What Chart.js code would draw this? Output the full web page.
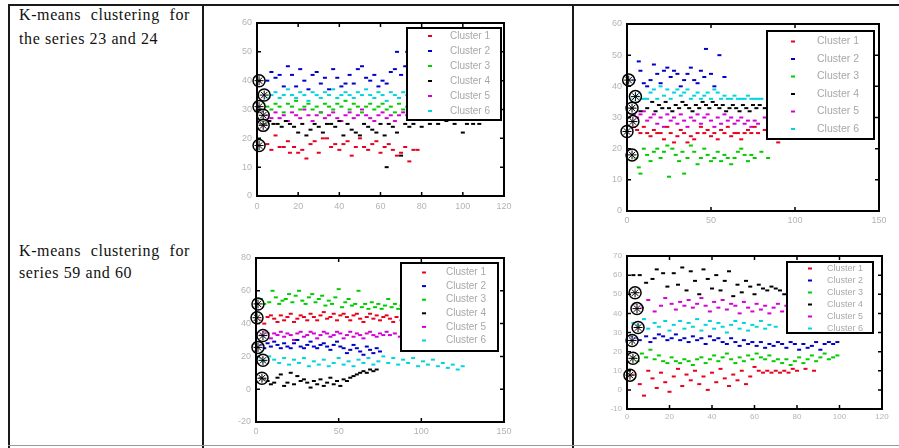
<!DOCTYPE html>
<html><head><meta charset="utf-8">
<script src="https://cdn.jsdelivr.net/npm/chart.js@4.4.1/dist/chart.umd.min.js"></script>
<style>
html,body{margin:0;padding:0;background:#fff;}
body{width:899px;height:448px;position:relative;overflow:hidden;}
.ln{position:absolute;background:#1a1a1a;}
.txt{position:absolute;font-family:"Liberation Serif","Times New Roman",serif;font-size:16px;letter-spacing:0.6px;color:#111;text-align:justify;}
canvas{position:absolute;}
</style></head><body>
<div class="ln" style="left:8px;top:4px;width:891px;height:2px"></div>
<div class="ln" style="left:8px;top:4px;width:2px;height:444px"></div>
<div class="ln" style="left:202px;top:4px;width:2px;height:444px"></div>
<div class="ln" style="left:572px;top:4px;width:2px;height:444px"></div>
<div class="ln" style="left:8px;top:445px;width:891px;height:1px;background:#999"></div>
<div class="txt" id="t1" style="left:19px;top:3px;width:171px;line-height:24px"></div>
<div class="txt" id="t2" style="left:19px;top:240px;width:171px;line-height:22px"></div>
<canvas id="c1"></canvas><canvas id="c2"></canvas><canvas id="c3"></canvas><canvas id="c4"></canvas>
<script>
// ---- text ----
const rowLabels = ["K-means clustering for the series 23 and 24", "K-means clustering for series 59 and 60"];
const clusterNames = ["Cluster 1","Cluster 2","Cluster 3","Cluster 4","Cluster 5","Cluster 6"];
const clusterColors = ["#e8001c","#0000c8","#00cc00","#000000","#d400d4","#00d4dc"];

// ---- plot 1 (series 23) ----
const p1X = {min:0,max:120,step:20};
const p1Y = {min:0,max:60,step:10};
const p1c1 = [[5,18],[7,16],[9,21],[11,17],[13,17],[15,19],[16,15],[18,17],[20,15],[22,16],[24,13],[26,18],[28,19],[30,15],[32,20],[34,20],[36,17],[38,18],[40,16],[42,18],[44,19],[46,14],[48,17],[50,20],[52,17],[54,16],[56,18],[58,19],[60,15],[62,17],[64,18],[66,16],[68,14],[70,15],[72,17],[74,12],[76,16],[78,16]];
const p1c2 = [[5,40],[7,43],[9,41],[11,42],[13,38],[15,45],[17,42],[19,38],[21,44],[23,40],[25,37],[27,42],[29,43],[31,39],[33,41],[35,37],[37,44],[39,41],[41,38],[43,39],[45,42],[47,39],[49,44],[51,45],[53,41],[55,40],[57,42],[59,38],[61,40],[63,39],[65,43],[67,44],[68,50],[70,42],[72,45],[73,50],[75,41],[77,43]];
const p1c3 = [[5,31],[7,30],[9,32],[11,31],[13,29],[15,32],[17,31],[19,33],[21,30],[23,31],[25,32],[27,30],[29,31],[31,29],[33,32],[35,31],[37,30],[39,32],[41,31],[43,33],[45,30],[47,32],[49,31],[51,29],[53,31],[55,32],[57,30],[59,31],[61,32],[63,30],[65,31],[67,29],[69,32],[71,30],[73,31],[75,30],[77,32],[79,31]];
const p1c4 = [[2,25],[4,25],[6,26],[8,25],[10,25],[12,24],[14,26],[16,25],[18,24],[20,22],[22,25],[24,21],[26,23],[28,25],[30,24],[32,22],[34,25],[36,25],[38,24],[40,26],[42,21],[44,25],[46,23],[48,22],[50,21],[52,25],[54,24],[56,23],[58,22],[60,25],[62,21],[63,10],[64,25],[66,24],[68,22],[70,14],[72,25],[74,24],[76,25],[80,24],[84,25],[88,25],[92,26],[96,25],[100,22],[102,25],[105,25],[108,25]];
const p1c5 = [[5,28],[7,27],[9,29],[11,27],[13,28],[15,26],[17,29],[19,28],[21,27],[23,30],[25,28],[27,26],[29,28],[31,29],[33,27],[35,28],[37,29],[39,27],[41,26],[43,28],[45,29],[47,27],[49,28],[51,30],[53,28],[55,27],[57,26],[59,28],[61,29],[63,27],[65,28],[67,26],[69,28],[71,29],[73,28],[75,27],[77,28],[79,29]];
const p1c6 = [[5,34],[7,35],[9,36],[11,34],[13,35],[15,37],[17,35],[19,34],[21,36],[23,35],[25,33],[27,36],[29,35],[31,34],[33,36],[35,35],[37,37],[39,34],[41,35],[43,36],[45,35],[47,34],[49,36],[51,35],[53,37],[55,35],[57,34],[59,36],[61,35],[63,33],[65,36],[67,35],[69,34],[71,36],[73,35],[75,34],[77,36],[79,35]];
const p1Centroids = [[1,40],[3.5,35],[1,31],[3,28],[3,24.5],[1,17.5]];

// ---- plot 2 (series 24) ----
const p2X = {min:0,max:150,step:50};
const p2Y = {min:0,max:60,step:10};
const p2c1 = [[4,27],[6,26],[8,25],[10,27],[12,25],[14,24],[16,26],[18,25],[20,25],[22,23],[24,27],[26,25],[28,22],[30,24],[32,26],[34,25],[36,22],[38,24],[40,23],[42,25],[44,27],[46,25],[48,26],[50,24],[52,25],[54,23],[56,26],[58,25],[60,27],[62,24],[64,25],[66,25],[68,23],[70,25],[72,26],[74,25],[76,27],[78,25],[82,26],[86,25],[90,22]];
const p2c2 = [[4,42],[7,48],[8,45],[10,41],[12,40],[14,42],[16,47],[18,44],[20,41],[22,45],[24,46],[26,43],[28,45],[30,44],[32,40],[34,42],[36,44],[38,46],[40,42],[42,41],[44,45],[46,43],[47,52],[50,44],[52,40],[55,50],[58,43]];
const p2c3 = [[5,17],[7,14],[8,12],[10,20],[12,18],[14,16],[16,19],[18,20],[20,17],[22,19],[24,21],[25,11],[27,20],[29,18],[31,16],[33,19],[34,12],[36,17],[38,21],[40,19],[42,15],[44,17],[46,20],[48,18],[50,16],[52,17],[54,19],[56,16],[58,18],[60,17],[62,15],[64,17],[66,19],[68,20],[70,18],[72,16],[74,18],[76,17],[80,19],[84,17]];
const p2c4 = [[3,33],[8,32],[12,33],[15,35],[17,32],[19,34],[21,33],[23,35],[25,33],[27,32],[29,34],[31,33],[33,35],[35,34],[37,33],[39,32],[41,34],[43,33],[45,35],[47,34],[49,33],[51,35],[53,34],[55,33],[57,34],[59,32],[61,33],[63,34],[65,33],[67,32],[69,34],[71,33],[73,32],[75,34],[77,33],[79,34],[82,33],[85,33]];
const p2c5 = [[4,31],[6,30],[8,31],[10,32],[12,29],[14,30],[16,31],[18,28],[20,30],[22,27],[24,31],[26,29],[28,30],[30,28],[32,31],[34,29],[36,27],[38,30],[40,29],[42,31],[44,28],[46,30],[48,31],[50,29],[52,27],[54,30],[56,28],[58,31],[60,29],[62,30],[64,28],[66,29],[68,30],[70,28],[72,29],[74,27],[76,29],[78,28],[82,30],[85,29]];
const p2c6 = [[3,36],[6,37],[8,36],[10,36],[12,36],[14,38],[16,39],[18,36],[20,40],[22,37],[24,39],[26,36],[28,38],[30,39],[32,37],[34,38],[36,39],[38,36],[40,37],[42,38],[44,36],[46,37],[48,38],[50,36],[52,39],[54,38],[56,36],[58,37],[60,36],[62,36],[64,37],[66,36],[68,36],[70,36],[72,37],[74,36],[76,36],[78,36],[80,36],[84,36],[88,36]];
const p2Centroids = [[1,42],[5,36.7],[3,33],[3.5,28.7],[0,25.5],[3,18]];

// ---- plot 3 (series 59) ----
const p3X = {min:0,max:150,step:50};
const p3Y = {min:-20,max:80,step:20};
const p3c1 = [[3,42],[5,40],[7,44],[9,45],[11,43],[13,41],[15,45],[17,42],[19,44],[21,46],[23,41],[25,43],[27,45],[29,44],[31,42],[33,46],[35,44],[37,42],[39,45],[41,47],[43,43],[45,44],[47,46],[49,42],[51,45],[53,46],[55,44],[57,42],[59,45],[61,46],[63,43],[65,41],[67,44],[69,46],[71,43],[73,45],[75,42],[77,44],[79,45],[81,43],[83,41],[85,44],[88,42]];
const p3c2 = [[3,27],[5,25],[7,28],[9,26],[11,29],[13,27],[15,25],[17,28],[19,26],[21,25],[23,28],[25,30],[27,26],[29,25],[31,27],[33,29],[35,26],[37,25],[39,27],[41,28],[43,26],[45,24],[47,27],[49,29],[51,26],[53,25],[55,22],[57,24],[59,27],[61,25],[63,23],[65,21],[67,26],[69,24],[71,22],[73,25],[75,23]];
const p3c3 = [[3,55],[5,52],[8,53],[10,60],[12,56],[14,52],[16,54],[18,55],[20,58],[22,53],[24,57],[26,60],[28,54],[30,52],[32,56],[34,58],[36,53],[38,55],[40,57],[42,51],[44,54],[46,52],[48,56],[50,61],[52,50],[54,53],[56,55],[58,51],[60,52],[62,60],[64,50],[66,52],[68,49],[70,53],[72,50],[74,52],[76,49],[78,51],[80,55],[82,50],[84,52],[86,49],[88,51],[90,48],[92,50]];
const p3c4 = [[3,7],[5,6],[7,5],[9,3],[11,4],[13,7],[15,9],[17,2],[19,4],[21,10],[23,3],[25,8],[27,5],[29,6],[31,4],[33,1],[35,5],[37,3],[39,6],[41,2],[43,4],[45,7],[47,3],[49,5],[51,2],[53,6],[55,5],[57,7],[59,8],[61,9],[63,10],[65,11],[67,10],[69,12],[71,11],[73,12]];
const p3c5 = [[3,33],[5,35],[7,34],[9,31],[11,34],[13,33],[15,35],[17,32],[19,34],[21,33],[23,30],[25,34],[27,35],[29,32],[31,33],[33,35],[35,34],[37,31],[39,33],[41,35],[43,34],[45,32],[47,33],[49,35],[51,34],[53,31],[55,33],[57,35],[59,32],[61,34],[63,33],[65,31],[67,34],[69,35],[71,33],[73,32],[75,34],[77,33],[79,35],[81,33],[84,34],[87,32]];
const p3c6 = [[3,19],[5,17],[8,20],[11,18],[14,16],[17,19],[20,15],[23,18],[26,16],[29,19],[32,14],[35,17],[38,15],[41,18],[44,14],[47,16],[50,19],[53,15],[56,17],[59,14],[62,18],[65,16],[68,19],[71,15],[74,17],[77,20],[80,16],[83,19],[86,15],[89,18],[92,16],[95,19],[98,14],[101,17],[104,15],[107,18],[110,14],[113,16],[116,13],[119,15],[122,12],[125,14]];
const p3Centroids = [[1.2,52],[0.6,43.6],[4.2,32.7],[1.2,25.5],[4.2,17.6],[3.6,6.7]];

// ---- plot 4 (series 60) ----
const p4X = {min:0,max:120,step:20};
const p4Y = {min:-10,max:70,step:10};
const p4c1 = [[3,8],[6,3],[8,-3],[10,10],[12,6],[14,1],[16,9],[18,4],[20,-1],[22,7],[24,11],[26,2],[28,8],[30,5],[32,10],[34,3],[36,7],[38,0],[40,9],[42,4],[44,11],[46,6],[48,2],[50,8],[52,5],[54,10],[56,3],[58,7],[60,12],[62,10],[64,9],[66,10],[68,9],[70,10],[72,9],[74,10],[76,9],[78,11],[80,10],[84,11],[88,10]];
const p4c2 = [[2,28],[4,27],[6,26],[9,28],[11,25],[13,27],[15,29],[17,28],[19,26],[21,27],[23,29],[25,26],[27,27],[29,25],[31,28],[33,26],[35,27],[37,24],[39,28],[41,26],[43,27],[45,25],[47,24],[49,27],[51,25],[53,23],[55,26],[57,24],[59,25],[61,23],[63,25],[65,22],[67,24],[69,23],[71,25],[73,24],[75,22],[77,25],[79,24],[81,21],[83,24],[85,22],[87,23],[89,25],[91,21],[93,24],[95,25],[97,24],[99,25]];
const p4c3 = [[3,17],[5,15],[7,19],[9,17],[11,21],[13,16],[15,18],[17,15],[19,14],[21,17],[23,15],[25,14],[27,16],[29,15],[31,13],[33,16],[35,17],[37,14],[39,16],[41,18],[43,15],[45,17],[47,19],[49,16],[51,14],[53,17],[55,15],[57,18],[59,16],[61,19],[63,17],[65,16],[67,18],[69,15],[71,16],[73,14],[75,16],[77,13],[79,15],[81,17],[83,14],[85,16],[87,18],[89,15],[91,17],[93,19],[95,16],[97,17],[99,18]];
const p4c4 = [[3,60],[6,60],[9,56],[12,58],[14,63],[17,61],[19,54],[22,61],[24,55],[26,64],[28,52],[30,62],[32,57],[34,50],[36,63],[38,58],[40,53],[42,60],[44,52],[46,57],[48,62],[50,49],[52,55],[54,51],[56,57],[58,54],[60,50],[62,55],[64,53],[66,52],[68,54],[70,53],[72,52],[74,50],[76,49],[78,48],[80,47]];
const p4c5 = [[4,45],[7,43],[10,47],[13,41],[16,44],[18,48],[21,45],[23,42],[25,46],[27,44],[29,47],[31,43],[33,45],[35,48],[37,44],[39,41],[41,46],[43,43],[45,47],[47,42],[49,45],[51,44],[53,40],[55,46],[57,43],[59,41],[61,45],[63,42],[65,44],[67,40],[69,43],[71,45],[73,41],[75,44],[78,42],[80,40]];
const p4c6 = [[3,35],[5,34],[8,37],[10,32],[13,35],[15,33],[18,36],[20,31],[22,34],[25,36],[27,32],[29,35],[31,33],[33,37],[35,31],[37,34],[39,36],[41,32],[43,35],[45,33],[47,30],[49,34],[51,36],[53,32],[55,35],[57,31],[59,34],[61,33],[63,36],[65,32],[67,34],[70,33]];
const p4Centroids = [[3.8,50.8],[4.7,42.5],[5.2,32.6],[2.4,25.8],[2.8,16.5],[1.4,7.7]];

document.getElementById('t1').textContent = rowLabels[0];
document.getElementById('t2').textContent = rowLabels[1];

const frameTicks = {
  id:'frameTicks',
  afterDatasetsDraw(chart){
    const {ctx, chartArea:a, scales:{x,y}} = chart;
    ctx.save();
    ctx.strokeStyle='#000'; ctx.lineWidth=1.5;
    const L=4;
    ctx.beginPath();
    x.ticks.forEach(t=>{ if(t.value===x.min||t.value===x.max) return; const p=x.getPixelForValue(t.value);
      ctx.moveTo(p,a.bottom); ctx.lineTo(p,a.bottom-L); ctx.moveTo(p,a.top); ctx.lineTo(p,a.top+L);});
    y.ticks.forEach(t=>{ if(t.value===y.min||t.value===y.max) return; const p=y.getPixelForValue(t.value);
      ctx.moveTo(a.left,p); ctx.lineTo(a.left+L,p); ctx.moveTo(a.right,p); ctx.lineTo(a.right-L,p);});
    ctx.stroke();
    ctx.lineWidth=2;
    ctx.strokeRect(a.left,a.top,a.right-a.left,a.bottom-a.top);
    ctx.restore();
  }
};
const boxLegend = {
  id:'boxLegend',
  afterDraw(chart, args, o){
    const {ctx, chartArea:a} = chart;
    const bx = a.right - o.right - o.w, by = a.top + o.top;
    ctx.save();
    ctx.fillStyle='#fff'; ctx.fillRect(bx,by,o.w,o.h);
    ctx.strokeStyle='#000'; ctx.lineWidth=2; ctx.strokeRect(bx,by,o.w,o.h);
    ctx.font = o.font + 'px "Liberation Sans", Arial, sans-serif';
    ctx.textBaseline='middle'; ctx.textAlign='left';
    chart.data.datasets.filter(d=>d.isCluster).forEach((d,i)=>{
      const cy = by + o.first + i*o.row;
      ctx.strokeStyle=d.borderColor; ctx.lineWidth=2;
      ctx.beginPath(); ctx.moveTo(bx+o.mark-2,cy); ctx.lineTo(bx+o.mark+2,cy); ctx.stroke();
      ctx.fillStyle='#a8a8a8';
      ctx.fillText(d.label, bx+o.text, cy);
    });
    ctx.restore();
  }
};

function toPts(arr){ return arr.map(p=>({x:p[0],y:p[1]})); }

function makeChart(id, area, xr, yr, clusters, cents, lg, tk){
  const padL=40, padT=12, padR=16, padB=26;
  const cv=document.getElementById(id);
  const W=area.r-area.l+padL+padR, H=area.b-area.t+padT+padB;
  cv.width=W; cv.height=H; cv.style.width=W+'px'; cv.style.height=H+'px';
  cv.style.left=(area.l-padL)+'px'; cv.style.top=(area.t-padT)+'px';
  const ds = clusters.map((c,i)=>({
    label:clusterNames[i], isCluster:true, data:toPts(c),
    pointStyle:'line', pointRadius:2, borderWidth:2,
    borderColor:clusterColors[i], backgroundColor:clusterColors[i], order:1
  }));
  ds.push({label:'centroid', data:toPts(cents), pointStyle:'circle', pointRadius:6, borderWidth:1.5,
    borderColor:'#000', backgroundColor:'rgba(255,255,255,0.5)', clip:false, order:0});
  ds.push({label:'centroid star', data:toPts(cents), pointStyle:'star', pointRadius:4.5, borderWidth:1,
    borderColor:'#000', backgroundColor:'#000', clip:false, order:-1});
  const tickFont = {family:'"Liberation Sans", Arial, sans-serif', size:tk.size};
  return new Chart(cv,{
    type:'scatter',
    data:{datasets:ds},
    plugins:[frameTicks, boxLegend],
    options:{
      responsive:false, animation:false, devicePixelRatio:1, events:[],
      layout:{padding:{left:0,top:padT,right:padR,bottom:0}, autoPadding:false},
      plugins:{legend:{display:false}, tooltip:{enabled:false}, boxLegend:lg},
      scales:{
        x:{type:'linear', min:xr.min, max:xr.max,
          grid:{display:false, drawTicks:false}, border:{display:false},
          ticks:{stepSize:xr.step, autoSkip:false, maxRotation:0, color:'#b4b4b4', font:tickFont, padding:tk.xpad},
          afterFit(s){ s.height=padB; s.paddingLeft=0; s.paddingRight=0; }},
        y:{type:'linear', min:yr.min, max:yr.max,
          grid:{display:false, drawTicks:false}, border:{display:false},
          ticks:{stepSize:yr.step, autoSkip:false, color:'#b4b4b4', font:tickFont, padding:tk.ypad},
          afterFit(s){ s.width=padL; s.paddingTop=0; s.paddingBottom=0; }}
      }
    }
  });
}

makeChart('c1',{l:257,t:23,r:504,b:196},p1X,p1Y,[p1c1,p1c2,p1c3,p1c4,p1c5,p1c6],p1Centroids,
  {right:3,top:5,w:94,h:92,first:8,row:15,mark:23,text:43,font:10},{size:9,xpad:5,ypad:5});
makeChart('c2',{l:627,t:24,r:879,b:211},p2X,p2Y,[p2c1,p2c2,p2c3,p2c4,p2c5,p2c6],p2Centroids,
  {right:5,top:7,w:107,h:108,first:10.5,row:17.5,mark:26,text:50,font:10.5},{size:9,xpad:4,ypad:5});
makeChart('c3',{l:256,t:258,r:504,b:422},p3X,p3Y,[p3c1,p3c2,p3c3,p3c4,p3c5,p3c6],p3Centroids,
  {right:6,top:5,w:97,h:88,first:9.5,row:13.6,mark:23,text:45,font:10},{size:9,xpad:4,ypad:5});
makeChart('c4',{l:627,t:256,r:882,b:409},p4X,p4Y,[p4c1,p4c2,p4c3,p4c4,p4c5,p4c6],p4Centroids,
  {right:9,top:6,w:86,h:71,first:6.5,row:12,mark:23,text:40,font:9},{size:8,xpad:3,ypad:5});
</script>
</body></html>
